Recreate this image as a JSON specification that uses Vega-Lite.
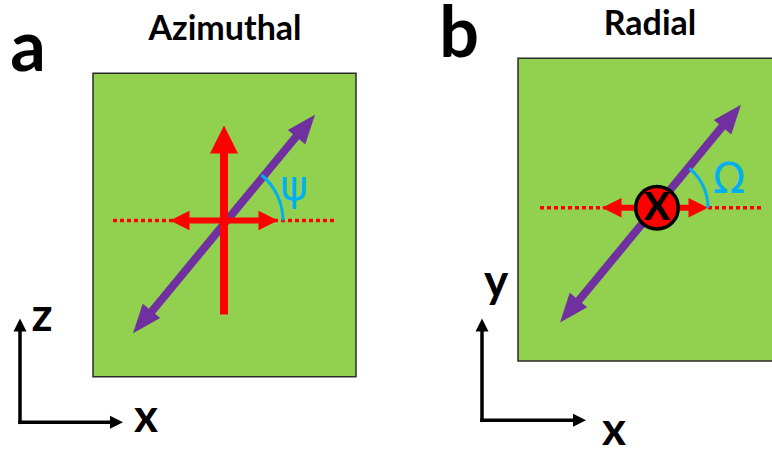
{
  "$schema": "https://vega.github.io/schema/vega-lite/v6.json",
  "width": 772,
  "height": 454,
  "autosize": {"type": "fit", "contains": "padding"},
  "padding": 0,
  "background": "white",
  "config": {"view": {"stroke": null}},
  "datasets": {
    "rects": [{"x1": 93, "x2": 356, "y1": 74, "y2": 381}, {"x1": 518, "x2": 790, "y1": 59, "y2": 365}],
    "dotted": [{"x1": 113, "x2": 337, "y1": 223, "y2": 223}, {"x1": 540, "x2": 763, "y1": 210, "y2": 210}],
    "purple": [{"x1": 146, "y1": 322, "x2": 302, "y2": 131}, {"x1": 573, "y1": 311, "x2": 728, "y2": 121}],
    "purpleHeads": [{"x": 315, "y": 116, "dir": 39.5}, {"x": 133, "y": 337, "dir": 219.5}, {"x": 741, "y": 106, "dir": 39.5}, {"x": 560, "y": 326, "dir": 219.5}],
    "redV": [{"x1": 224, "y1": 318, "x2": 224, "y2": 142}],
    "redVHead": [{"x": 224, "y": 127, "dir": 0}],
    "redH": [{"x1": 180, "x2": 268, "y1": 223, "y2": 223}, {"x1": 612, "x2": 698, "y1": 210, "y2": 210}],
    "redHHeads": [{"x": 170, "y": 223, "dir": 270}, {"x": 278, "y": 223, "dir": 90}, {"x": 602, "y": 210, "dir": 270}, {"x": 708, "y": 210, "dir": 90}],
    "circle": [{"x": 657, "y": 210, "t": "X"}],
    "arcA": [{"x": 224, "y": 223}],
    "arcB": [{"x": 657, "y": 210}],
    "greek": [{"x": 294, "y": 189, "t": "ψ"}, {"x": 729, "y": 182, "t": "Ω"}],
    "axLines": [{"x1": 20, "y1": 427, "x2": 20, "y2": 333}, {"x1": 20, "y1": 427, "x2": 114, "y2": 427}, {"x1": 482, "y1": 425, "x2": 482, "y2": 333}, {"x1": 482, "y1": 425, "x2": 577, "y2": 425}],
    "axHeads": [{"x": 20, "y": 322, "dir": 0}, {"x": 123, "y": 427, "dir": 90}, {"x": 482, "y": 322, "dir": 0}, {"x": 586, "y": 425, "dir": 90}],
    "big": [{"x": 28, "y": 72, "t": "a"}, {"x": 459, "y": 58, "t": "b"}],
    "titles": [{"x": 225, "y": 40, "t": "Azimuthal"}, {"x": 650, "y": 35, "t": "Radial"}],
    "axLabels": [{"x": 42, "y": 335, "t": "z"}, {"x": 146, "y": 437, "t": "x"}, {"x": 496, "y": 300, "t": "y"}, {"x": 614, "y": 450, "t": "x"}]
  },
  "encoding": {
    "x": {"field": "x", "type": "quantitative", "scale": {"domain": [0, 772], "nice": false, "zero": false}, "axis": null},
    "y": {"field": "y", "type": "quantitative", "scale": {"domain": [0, 454], "nice": false, "zero": false, "reverse": true}, "axis": null}
  },
  "layer": [
    {
      "data": {"name": "rects"},
      "mark": {"type": "rect", "fill": "#92D050", "stroke": "#2b2b2b", "strokeWidth": 1.5, "clip": true},
      "encoding": {
        "x": {"field": "x1", "type": "quantitative"}, "x2": {"field": "x2"},
        "y": {"field": "y1", "type": "quantitative"}, "y2": {"field": "y2"}
      }
    },
    {
      "data": {"name": "dotted"},
      "mark": {"type": "rule", "color": "#FF0000", "strokeWidth": 3.5, "strokeDash": [4, 3]},
      "encoding": {
        "x": {"field": "x1", "type": "quantitative"}, "x2": {"field": "x2"},
        "y": {"field": "y1", "type": "quantitative"}, "y2": {"field": "y2"}
      }
    },
    {
      "data": {"name": "purple"},
      "mark": {"type": "rule", "color": "#7030A0", "strokeWidth": 8},
      "encoding": {
        "x": {"field": "x1", "type": "quantitative"}, "x2": {"field": "x2"},
        "y": {"field": "y1", "type": "quantitative"}, "y2": {"field": "y2"}
      }
    },
    {
      "data": {"name": "purpleHeads"},
      "mark": {"type": "point", "filled": true, "opacity": 1, "color": "#7030A0", "shape": "M0,0L0.78,2L-0.78,2Z", "size": 841},
      "encoding": {"angle": {"field": "dir", "type": "quantitative", "scale": null}}
    },
    {
      "data": {"name": "redV"},
      "mark": {"type": "rule", "color": "#FF0000", "strokeWidth": 8},
      "encoding": {
        "x": {"field": "x1", "type": "quantitative"}, "x2": {"field": "x2"},
        "y": {"field": "y1", "type": "quantitative"}, "y2": {"field": "y2"}
      }
    },
    {
      "data": {"name": "redVHead"},
      "mark": {"type": "point", "filled": true, "opacity": 1, "color": "#FF0000", "shape": "M0,0L1,2L-1,2Z", "size": 784},
      "encoding": {"angle": {"field": "dir", "type": "quantitative", "scale": null}}
    },
    {
      "data": {"name": "redH"},
      "mark": {"type": "rule", "color": "#FF0000", "strokeWidth": 6},
      "encoding": {
        "x": {"field": "x1", "type": "quantitative"}, "x2": {"field": "x2"},
        "y": {"field": "y1", "type": "quantitative"}, "y2": {"field": "y2"}
      }
    },
    {
      "data": {"name": "redHHeads"},
      "mark": {"type": "point", "filled": true, "opacity": 1, "color": "#FF0000", "shape": "M0,0L1,2L-1,2Z", "size": 380},
      "encoding": {"angle": {"field": "dir", "type": "quantitative", "scale": null}}
    },
    {
      "data": {"name": "circle"},
      "mark": {"type": "point", "filled": true, "opacity": 1, "shape": "circle", "fill": "#FF0000", "stroke": "black", "strokeWidth": 3.5, "size": 1810}
    },
    {
      "data": {"name": "circle"},
      "mark": {"type": "text", "font": "Lato", "fontWeight": 900, "fontSize": 38, "color": "black", "align": "center", "baseline": "middle", "dy": 1},
      "encoding": {"text": {"field": "t"}}
    },
    {
      "data": {"name": "arcA"},
      "mark": {"type": "arc", "theta": 0.689, "theta2": 1.5708, "radius": 60.5, "radius2": 57.5, "color": "#00B0F0"}
    },
    {
      "data": {"name": "arcB"},
      "mark": {"type": "arc", "theta": 0.689, "theta2": 1.5708, "radius": 52.5, "radius2": 49.5, "color": "#00B0F0"}
    },
    {
      "data": {"name": "greek"},
      "mark": {"type": "text", "font": "DejaVu Sans", "fontSize": 42, "color": "#00B0F0", "align": "center", "baseline": "middle"},
      "encoding": {"text": {"field": "t"}}
    },
    {
      "data": {"name": "axLines"},
      "mark": {"type": "rule", "color": "black", "strokeWidth": 3.5, "strokeCap": "square"},
      "encoding": {
        "x": {"field": "x1", "type": "quantitative"}, "x2": {"field": "x2"},
        "y": {"field": "y1", "type": "quantitative"}, "y2": {"field": "y2"}
      }
    },
    {
      "data": {"name": "axHeads"},
      "mark": {"type": "point", "filled": true, "opacity": 1, "color": "black", "shape": "M0,0L1,2L-1,2Z", "size": 169},
      "encoding": {"angle": {"field": "dir", "type": "quantitative", "scale": null}}
    },
    {
      "data": {"name": "big"},
      "mark": {"type": "text", "font": "Lato", "fontWeight": "bold", "fontSize": 70, "color": "black", "align": "center", "baseline": "alphabetic"},
      "encoding": {"text": {"field": "t"}}
    },
    {
      "data": {"name": "titles"},
      "mark": {"type": "text", "font": "Lato", "fontWeight": "bold", "fontSize": 34, "color": "black", "align": "center", "baseline": "alphabetic"},
      "encoding": {"text": {"field": "t"}}
    },
    {
      "data": {"name": "axLabels"},
      "mark": {"type": "text", "font": "Lato", "fontWeight": "bold", "fontSize": 46, "color": "black", "align": "center", "baseline": "alphabetic"},
      "encoding": {"text": {"field": "t"}}
    }
  ]
}
